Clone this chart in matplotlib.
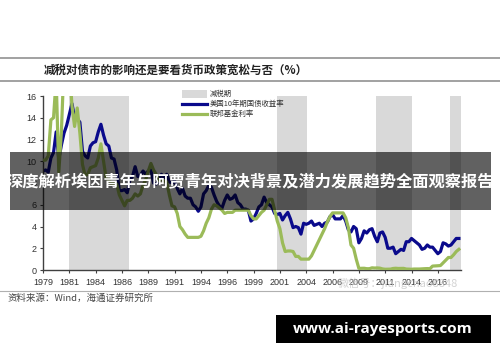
import matplotlib
matplotlib.use("Agg")
import matplotlib.pyplot as plt
from matplotlib.patches import Rectangle
from matplotlib.lines import Line2D
import numpy as np

CJK = ['Noto Sans CJK SC', 'DejaVu Sans']

# quarterly readings, 1979Q1 .. 2018Q3
us10y = [9.1, 9.2, 9.0, 10.3,
         10.8, 12.7, 10.2, 11.5,
         12.6, 13.3, 14.3, 15.3,
         14.0, 13.9, 13.6, 10.9,
         10.5, 10.3, 11.4, 11.7,
         11.8, 12.7, 13.4, 12.4,
         11.6, 11.4, 10.3, 10.2,
         9.2, 7.3, 7.3, 7.4,
         7.1, 8.3, 8.6, 9.5,
         8.6, 8.7, 9.1, 8.8,
         9.1, 9.2, 8.0, 7.9,
         8.2, 8.8, 8.5, 8.8,
         8.1, 8.0, 8.2, 7.5,
         7.0, 7.5, 6.8, 6.6,
         6.6, 6.0, 5.8, 5.4,
         5.8, 7.0, 7.3, 7.8,
         7.6, 6.9, 6.3, 5.9,
         5.7, 6.4, 6.9, 6.5,
         6.6, 6.9, 6.2, 6.0,
         5.6, 5.6, 5.5, 4.5,
         4.7, 5.2, 5.8, 6.0,
         6.7, 6.2, 6.0, 5.8,
         5.2, 5.1, 5.2, 4.6,
         5.0, 5.3, 4.7, 3.9,
         4.0, 3.9, 3.3, 4.3,
         4.2, 4.3, 4.5, 4.1,
         4.2, 4.3, 4.0, 4.3,
         4.4, 4.9, 5.1, 4.7,
         4.7, 4.7, 5.0, 4.5,
         3.7, 3.5, 4.0, 3.8,
         2.5, 2.9, 3.6, 3.4,
         3.7, 3.8, 3.1, 2.6,
         3.4, 3.5, 3.0, 2.0,
         2.0, 2.1, 1.5, 1.7,
         1.9, 1.8, 2.6, 2.6,
         2.9, 2.7, 2.5, 2.3,
         1.9, 2.0, 2.3, 2.1,
         2.1, 1.8, 1.5, 1.7,
         2.5, 2.4, 2.2, 2.3,
         2.6, 2.9, 2.9]

fedfunds = [10.1, 10.1, 10.5, 13.8,
            14.0, 17.6, 9.0, 12.8,
            19.1, 17.0, 19.0, 15.1,
            13.2, 14.9, 12.6, 9.7,
            8.7, 8.8, 9.4, 9.5,
            9.6, 10.3, 11.6, 10.0,
            8.4, 8.3, 7.9, 8.0,
            7.9, 6.9, 6.4, 5.9,
            6.4, 6.4, 6.6, 7.0,
            6.8, 7.0, 7.8, 8.3,
            9.1, 9.8, 9.2, 8.8,
            8.2, 8.3, 8.2, 8.1,
            6.9, 5.9, 5.8, 5.2,
            4.0, 3.7, 3.3, 3.0,
            3.0, 3.0, 3.0, 3.0,
            3.1, 3.6, 4.3, 4.8,
            5.6, 6.0, 5.9, 5.7,
            5.5, 5.2, 5.3, 5.3,
            5.3, 5.5, 5.5, 5.5,
            5.5, 5.5, 5.5, 5.0,
            4.7, 4.7, 5.0, 5.3,
            5.5, 6.0, 6.5, 6.5,
            5.5, 4.5, 3.8, 2.5,
            1.7, 1.75, 1.75, 1.7,
            1.25, 1.25, 1.0, 1.0,
            1.0, 1.0, 1.3, 1.8,
            2.3, 2.8, 3.3, 3.8,
            4.4, 4.9, 5.25, 5.25,
            5.25, 5.25, 5.25, 4.8,
            3.9, 2.3, 2.0, 1.0,
            0.15, 0.15, 0.16, 0.12,
            0.12, 0.2, 0.18, 0.19,
            0.17, 0.1, 0.07, 0.07,
            0.08, 0.14, 0.16, 0.14,
            0.14, 0.15, 0.09, 0.08,
            0.07, 0.09, 0.09, 0.09,
            0.11, 0.12, 0.13, 0.12,
            0.36, 0.37, 0.39, 0.41,
            0.65, 0.9, 1.15, 1.15,
            1.4, 1.7, 1.9]

# tax-cut periods (start, end) in years
tax_cut_periods = [(1981.5, 1987.2), (2001.2, 2004.1), (2010.6, 2014.0), (2017.65, 2018.7)]

tick_labels = ['1979', '1981', '1984', '1986', '1989', '1991', '1994', '1996',
               '1999', '2001', '2004', '2006', '2009', '2011', '2014', '2016']

t = 1979 + 0.25 * np.arange(len(us10y))

W, H = 500, 362
fig = plt.figure(figsize=(W / 100, H / 100), dpi=100)

def fx(px):
    return px / W

def fy(py):
    return 1 - py / H

ax = fig.add_axes([fx(43), fy(270), (461 - 43) / W, (270 - 96) / H])

for a, b in tax_cut_periods:
    ax.axvspan(a, b, color='#d9d9d9', lw=0, zorder=0)

ax.plot(t, us10y, color='#0a0a8c', lw=2.3, zorder=2, solid_joinstyle='round')
ax.plot(t, fedfunds, color='#9bbb59', lw=2.3, zorder=3, solid_joinstyle='round')

ax.set_xlim(1979, 2018.7)
ax.set_ylim(0, 16)
ax.set_xticks([1979 + 2.5 * i for i in range(len(tick_labels))])
ax.set_xticklabels(tick_labels)
ax.set_yticks(range(0, 17, 2))
for s in ['top', 'right']:
    ax.spines[s].set_visible(False)
for s in ['left', 'bottom']:
    ax.spines[s].set_color('#404040')
    ax.spines[s].set_linewidth(1.0)
ax.tick_params(axis='both', direction='out', length=2.5, width=0.8, color='#404040',
               labelsize=6.5, labelcolor='#333333')
ax.tick_params(axis='x', pad=3)
ax.tick_params(axis='y', pad=2)
for lab in ax.get_xticklabels() + ax.get_yticklabels():
    lab.set_family('Liberation Sans')

# title block
for py in (58, 81):
    fig.add_artist(Line2D([0, 1], [fy(py), fy(py)], color='#9a9a9a', lw=1.3))
fig.text(fx(44), fy(70), '减税对债市的影响还是要看货币政策宽松与否（%）', family=CJK,
         fontsize=8.3, fontweight='bold', color='#222222', va='center')

# legend
fig.add_artist(Rectangle((fx(182), fy(98)), 25 / W, 8 / H, color='#d9d9d9', lw=0))
fig.add_artist(Line2D([fx(182), fx(207)], [fy(104), fy(104)], color='#0a0a8c', lw=2.3))
fig.add_artist(Line2D([fx(182), fx(207)], [fy(114), fy(114)], color='#9bbb59', lw=2.3))
for py, txt in [(94, '减税期'), (104, '美国10年期国债收益率'), (114, '联邦基金利率')]:
    fig.text(fx(210), fy(py), txt, family=CJK, fontsize=5.3, color='#333333', va='center')

# source line
fig.add_artist(Line2D([0, 1], [fy(291), fy(291)], color='#b0b0b0', lw=0.8))
fig.text(fx(8), fy(298), '资料来源：Wind，海通证券研究所', family=CJK, fontsize=6.8,
         color='#444444', va='center')

# watermark
fig.text(fx(338), fy(283), '微信号：jiangchao8848', family=CJK, fontsize=8,
         color='#c8c8c8', alpha=0.8, va='center')

# overlay banner
fig.add_artist(Rectangle((fx(10), fy(210)), 481 / W, 58 / H, color='black', alpha=0.62, lw=0))
fig.text(fx(250), fy(181), '深度解析埃因青年与阿贾青年对决背景及潜力发展趋势全面观察报告',
         family=CJK, fontsize=11.7, fontweight='bold', color='white', ha='center', va='center')

# url box
fig.add_artist(Rectangle((fx(276), fy(343)), 215 / W, 28 / H, color='black', lw=0))
fig.text(fx(383), fy(329), 'www.ai-rayesports.com', family=['Open Sans', 'DejaVu Sans'],
         fontsize=11, fontweight='bold', color='white', ha='center', va='center')

fig.savefig('out.png', dpi=100)
